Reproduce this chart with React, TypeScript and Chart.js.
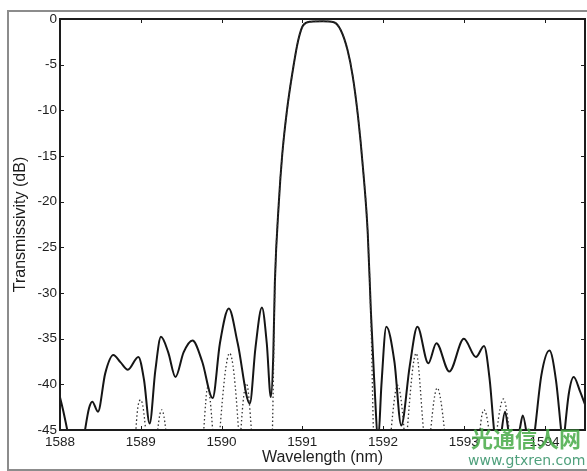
import React, { useEffect, useRef } from "react";
import { Chart, registerables } from "chart.js";

Chart.register(...registerables);

// Solid curve (Transmissivity, dB) vs wavelength (nm)
const solidWl = [
  1588.0, 1588.05, 1588.1, 1588.18, 1588.26, 1588.31, 1588.36, 1588.4, 1588.47, 1588.56,
  1588.66, 1588.75, 1588.84, 1588.97, 1589.04, 1589.11, 1589.18, 1589.25, 1589.34, 1589.43,
  1589.53, 1589.64, 1589.76, 1589.89, 1589.98, 1590.09, 1590.2, 1590.35, 1590.42, 1590.5,
  1590.56, 1590.61, 1590.64, 1590.66, 1590.71, 1590.75, 1590.81, 1590.89, 1590.95, 1591.01,
  1591.1, 1591.25, 1591.39, 1591.475, 1591.56, 1591.625, 1591.69, 1591.75, 1591.81, 1591.85,
  1591.89, 1591.94, 1591.98, 1592.04, 1592.14, 1592.225, 1592.33, 1592.425, 1592.56, 1592.66,
  1592.82, 1593.0, 1593.15, 1593.25, 1593.32, 1593.38, 1593.44, 1593.47, 1593.51, 1593.55,
  1593.6, 1593.69, 1593.73, 1593.77, 1593.82, 1593.88, 1593.96, 1594.06, 1594.14, 1594.21,
  1594.23, 1594.25, 1594.3, 1594.36, 1594.44, 1594.5,
];
const solidDb = [
  -41.4, -43.3, -45.5, -50, -48, -45, -42.6, -41.9, -43.0, -38.8,
  -36.8, -37.6, -38.4, -37.0, -39.5, -44.3, -38.5, -34.8, -36.5, -39.2,
  -36.5, -35.2, -37.5, -41.5, -35.5, -31.7, -35.5, -42.1, -36.0, -31.6,
  -35.5, -41.4, -37.0, -28.9, -20.0, -15.0, -10.0, -5.2, -2.3, -0.7,
  -0.3, -0.25, -0.35, -1.2, -3.4, -6.3, -10.7, -16.2, -23.4, -32.2,
  -39.5, -46.0, -40.0, -33.7, -37.5, -44.5, -38.0, -33.7, -37.7, -35.5,
  -38.6, -35.0, -37.0, -35.8, -39.5, -45.5, -48, -45, -43.0, -45,
  -48, -45, -43.4, -45, -49, -45, -39.0, -36.3, -39.5, -45.5,
  -47, -45, -41.0, -39.2, -40.8, -42.2,
];

// Dotted curve
const dottedWl = [
  1588.0, 1588.9, 1588.94, 1589.0, 1589.06, 1589.13, 1589.21, 1589.26, 1589.31, 1589.4,
  1589.72, 1589.78, 1589.83, 1589.89, 1589.935, 1589.98, 1590.1, 1590.21, 1590.225, 1590.24,
  1590.31, 1590.37, 1590.44, 1590.58, 1590.63, 1590.66, 1590.71, 1590.75, 1590.81, 1590.89,
  1590.95, 1591.01, 1591.1, 1591.25, 1591.39, 1591.475, 1591.56, 1591.625, 1591.69, 1591.75,
  1591.81, 1591.85, 1591.88, 1591.92, 1592.02, 1592.1, 1592.18, 1592.26, 1592.28, 1592.3,
  1592.41, 1592.5, 1592.55, 1592.59, 1592.67, 1592.76, 1592.85, 1593.13, 1593.2, 1593.25,
  1593.31, 1593.36, 1593.41, 1593.49, 1593.56, 1593.65, 1594.5,
];
const dottedDb = [
  -60, -55, -45, -41.7, -45, -55, -45, -42.8, -45, -55,
  -55, -45, -40.3, -45, -52, -45, -36.6, -45, -48, -45,
  -39.9, -45, -55, -55, -45, -29.5, -20.0, -15.0, -10.0, -5.2,
  -2.3, -0.7, -0.3, -0.25, -0.35, -1.2, -3.4, -6.3, -10.7, -16.2,
  -23.4, -33.0, -45, -55, -55, -45, -40.1, -45, -48, -45,
  -36.6, -45, -50, -45, -40.4, -45, -55, -55, -45, -42.8,
  -45, -50, -45, -41.6, -45, -55, -60,
];

const xTickValues = [1588, 1589, 1590, 1591, 1592, 1593, 1594];
const yTickValues = [0, -5, -10, -15, -20, -25, -30, -35, -40, -45];

const FONT = "'Liberation Sans', Arial, Helvetica, sans-serif";

const framePlugin = {
  id: "frameTicks",
  afterDraw(chart: any) {
    const { ctx, chartArea: a, scales } = chart;
    ctx.save();
    ctx.strokeStyle = "#1c1c1c";
    ctx.lineWidth = 1;
    const L = 4;
    ctx.beginPath();
    for (const v of xTickValues) {
      const x = Math.round(scales.x.getPixelForValue(v)) + 0.5;
      ctx.moveTo(x, a.top);
      ctx.lineTo(x, a.top + L);
      ctx.moveTo(x, a.bottom);
      ctx.lineTo(x, a.bottom - L);
    }
    for (const v of yTickValues) {
      const y = Math.round(scales.y.getPixelForValue(v)) + 0.5;
      ctx.moveTo(a.left, y);
      ctx.lineTo(a.left + L, y);
      ctx.moveTo(a.right, y);
      ctx.lineTo(a.right - L, y);
    }
    ctx.stroke();
    ctx.lineWidth = 2;
    ctx.strokeRect(a.left, a.top, a.right - a.left, a.bottom - a.top);
    ctx.restore();
  },
};

export default function App() {
  const ref = useRef<HTMLCanvasElement | null>(null);

  useEffect(() => {
    if (!ref.current) return;
    const solid = solidWl.map((x, i) => ({ x, y: solidDb[i] }));
    const dotted = dottedWl.map((x, i) => ({ x, y: dottedDb[i] }));
    const chart = new Chart(ref.current, {
      type: "line",
      data: {
        datasets: [
          {
            data: dotted,
            borderColor: "#333",
            borderWidth: 1.3,
            borderDash: [1.5, 2.5],
            pointRadius: 0,
            cubicInterpolationMode: "monotone",
            fill: false,
          },
          {
            data: solid,
            borderColor: "#151515",
            borderWidth: 2,
            pointRadius: 0,
            cubicInterpolationMode: "monotone",
            fill: false,
          },
        ],
      },
      options: {
        responsive: false,
        animation: false,
        devicePixelRatio: 1,
        layout: { padding: { left: 0, top: 19, right: 2, bottom: 0 } },
        plugins: {
          legend: { display: false },
          tooltip: { enabled: false },
        },
        scales: {
          x: {
            type: "linear",
            min: 1588,
            max: 1594.5,
            afterBuildTicks: (s: any) => {
              s.ticks = xTickValues.map((v) => ({ value: v }));
            },
            afterFit: (s: any) => {
              s.height = 41;
            },
            grid: { display: false, drawTicks: false },
            border: { display: false },
            ticks: {
              padding: 4,
              autoSkip: false,
              maxRotation: 0,
              color: "#1e1e1e",
              font: { family: FONT, size: 13.5 },
              callback: (v: any) => String(v),
            },
            title: {
              display: true,
              text: "Wavelength (nm)",
              color: "#1e1e1e",
              font: { family: FONT, size: 16 },
              padding: { top: 0, bottom: 4 },
            },
          },
          y: {
            type: "linear",
            min: -45,
            max: 0,
            afterBuildTicks: (s: any) => {
              s.ticks = yTickValues.map((v) => ({ value: v }));
            },
            afterFit: (s: any) => {
              s.width = 60;
            },
            grid: { display: false, drawTicks: false },
            border: { display: false },
            ticks: {
              padding: 3,
              autoSkip: false,
              color: "#1e1e1e",
              font: { family: FONT, size: 13.5 },
              callback: (v: any) => String(v),
            },
            title: {
              display: true,
              text: "Transmissivity (dB)",
              color: "#1e1e1e",
              font: { family: FONT, size: 16 },
              padding: { top: 11, bottom: 0 },
            },
          },
        },
      },
      plugins: [framePlugin],
    });
    return () => chart.destroy();
  }, []);

  return (
    <div
      style={{
        position: "absolute",
        left: 0,
        top: 0,
        width: 587,
        height: 471,
        overflow: "hidden",
        background: "#fff",
      }}
    >
      <div
        style={{
          position: "absolute",
          left: 7,
          top: 10,
          width: 600,
          height: 457,
          borderLeft: "2px solid #8c8c8c",
          borderTop: "2px solid #8c8c8c",
          borderBottom: "2px solid #8c8c8c",
        }}
      />
      <canvas
        ref={ref}
        width={587}
        height={471}
        style={{ position: "absolute", left: 0, top: 0, display: "block" }}
      />
      <div
        style={{
          position: "absolute",
          left: 471,
          top: 425,
          fontFamily: "'Noto Sans CJK SC', sans-serif",
          fontWeight: 700,
          fontSize: 22,
          lineHeight: "24px",
          color: "rgba(70,170,70,0.85)",
          whiteSpace: "nowrap",
        }}
      >
        光通信人网
      </div>
      <div
        style={{
          position: "absolute",
          left: 468,
          top: 452,
          fontFamily: "'DejaVu Sans', sans-serif",
          fontSize: 14,
          lineHeight: "16px",
          color: "rgba(60,150,110,0.9)",
          whiteSpace: "nowrap",
        }}
      >
        www.gtxren.com
      </div>
    </div>
  );
}
